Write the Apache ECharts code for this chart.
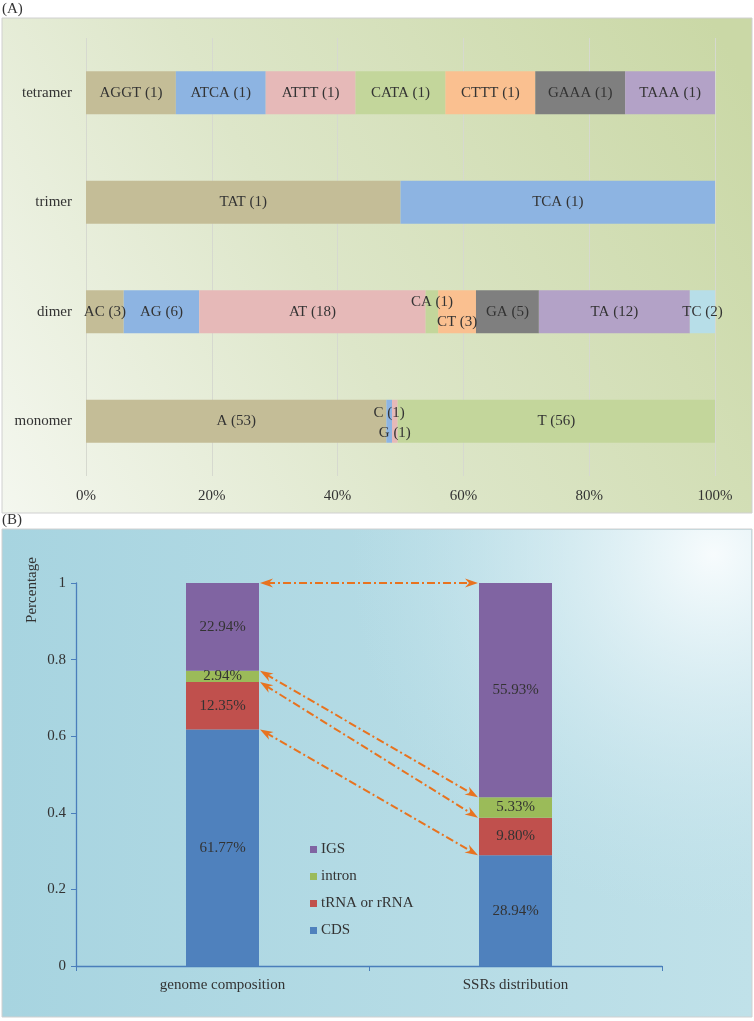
<!DOCTYPE html>
<html>
<head>
<meta charset="utf-8">
<script src="https://cdn.jsdelivr.net/npm/echarts@6/dist/echarts.min.js"></script>
<style>
html,body{margin:0;padding:0;background:#fff;}
#chart{width:754px;height:1021px;}
</style>
</head>
<body>
<div id="chart"></div>
<script>
// ---------- Panel A data ----------
const catsA = ['tetramer', 'trimer', 'dimer', 'monomer'];
const tetramerNames = ['AGGT', 'ATCA', 'ATTT', 'CATA', 'CTTT', 'GAAA', 'TAAA'];
const tetramerCounts = [1, 1, 1, 1, 1, 1, 1];
const trimerNames = ['TAT', 'TCA'];
const trimerCounts = [1, 1];
const dimerNames = ['AC', 'AG', 'AT', 'CA', 'CT', 'GA', 'TA', 'TC'];
const dimerCounts = [3, 6, 18, 1, 3, 5, 12, 2];
const monomerNames = ['A', 'C', 'G', 'T'];
const monomerCounts = [53, 1, 1, 56];
const xTicksA = [0, 20, 40, 60, 80, 100];

// ---------- Panel B data ----------
const catsB = ['genome composition', 'SSRs distribution'];
const cdsPct = [61.77, 28.94];
const rnaPct = [12.35, 9.80];
const intronPct = [2.94, 5.33];
const igsPct = [22.94, 55.93];
const yTicksB = [0, 0.2, 0.4, 0.6, 0.8, 1];

// ---------- styles ----------
const FONT = "'Liberation Serif', 'Times New Roman', serif";
const TXT = '#333333';
const slotColors = ['#c4bd97', '#8db4e2', '#e6b9b8', '#c3d69b', '#fac090', '#7f7f7f', '#b3a2c7', '#b7dee8'];
const colB = { CDS: '#4f81bd', RNA: '#c0504d', intron: '#9bbb59', IGS: '#8064a2' };
const ARROW = '#e8731f';
const BAR_B = 73;

// label offsets for tiny segments (row, slot) -> offset
const labelOffsets = { 'dimer-3': [0, -10], 'dimer-4': [0, 10], 'monomer-1': [0, -8], 'monomer-2': [0, 12] };

const rowsA = {
  tetramer: { names: tetramerNames, counts: tetramerCounts },
  trimer: { names: trimerNames, counts: trimerCounts },
  dimer: { names: dimerNames, counts: dimerCounts },
  monomer: { names: monomerNames, counts: monomerCounts }
};

const seriesA = [];
for (let s = 0; s < slotColors.length; s++) {
  const data = catsA.map(function (c) {
    const r = rowsA[c];
    if (s >= r.counts.length) return '-';
    const total = r.counts.reduce(function (a, b) { return a + b; }, 0);
    const item = {
      value: r.counts[s] / total * 100,
      lbl: r.names[s] + ' (' + r.counts[s] + ')'
    };
    const off = labelOffsets[c + '-' + s];
    if (off) item.label = { offset: off };
    return item;
  });
  seriesA.push({
    type: 'bar', stack: 'a', xAxisIndex: 0, yAxisIndex: 0,
    barWidth: 43,
    itemStyle: { color: slotColors[s] },
    label: {
      show: true, position: 'inside', color: TXT, fontFamily: FONT, fontSize: 15,
      formatter: function (p) { return p.data.lbl; }
    },
    data: data
  });
}

const seriesBDefs = [
  { name: 'CDS', vals: cdsPct, color: colB.CDS },
  { name: 'tRNA or rRNA', vals: rnaPct, color: colB.RNA },
  { name: 'intron', vals: intronPct, color: colB.intron },
  { name: 'IGS', vals: igsPct, color: colB.IGS }
];
const seriesB = seriesBDefs.map(function (d) {
  return {
    name: d.name, type: 'bar', stack: 'b', xAxisIndex: 1, yAxisIndex: 1,
    barWidth: BAR_B,
    itemStyle: { color: d.color },
    label: {
      show: true, position: 'inside', color: TXT, fontFamily: FONT, fontSize: 15,
      formatter: function (p) { return (p.value * 100).toFixed(2) + '%'; }
    },
    data: d.vals.map(function (v) { return v / 100; })
  };
});

// arrows connect matching stack boundaries of the two bars
function tops(i) {
  const c = cdsPct[i] / 100, r = rnaPct[i] / 100, n = intronPct[i] / 100, g = igsPct[i] / 100;
  return [c + r + n + g, c + r + n, c + r, c];
}
const t0 = tops(0), t1 = tops(1);
const arrowData = t0.map(function (v, k) { return [0, Math.min(v, 1), 1, Math.min(t1[k], 1)]; });

function arrowHead(x, y, dx, dy) {
  const L = 13, W = 4.5, N = 9;
  const px = -dy, py = dx;
  return {
    type: 'polygon',
    shape: { points: [
      [x, y],
      [x - dx * L + px * W, y - dy * L + py * W],
      [x - dx * N, y - dy * N],
      [x - dx * L - px * W, y - dy * L - py * W]
    ] },
    style: { fill: ARROW }
  };
}

const arrowSeries = {
  type: 'custom', xAxisIndex: 1, yAxisIndex: 1, clip: false, z: 5,
  silent: true,
  encode: { x: 0, y: 1 },
  renderItem: function (params, api) {
    const p1 = api.coord([api.value(0), api.value(1)]);
    const p2 = api.coord([api.value(2), api.value(3)]);
    const x1 = p1[0] + BAR_B / 2 + 1, y1 = p1[1];
    const x2 = p2[0] - BAR_B / 2 - 1, y2 = p2[1];
    const len = Math.hypot(x2 - x1, y2 - y1);
    const ux = (x2 - x1) / len, uy = (y2 - y1) / len;
    return {
      type: 'group',
      children: [
        {
          type: 'line',
          shape: { x1: x1 + ux * 7, y1: y1 + uy * 7, x2: x2 - ux * 7, y2: y2 - uy * 7 },
          style: { stroke: ARROW, lineWidth: 2, lineDash: [8, 3, 2, 3], fill: null }
        },
        arrowHead(x1, y1, -ux, -uy),
        arrowHead(x2, y2, ux, uy)
      ]
    };
  },
  data: arrowData
};

const option = {
  animation: false,
  backgroundColor: '#ffffff',
  textStyle: { fontFamily: FONT },
  graphic: [
    { type: 'rect', z: -10, shape: { x: 2, y: 18, width: 750, height: 495 },
      style: { stroke: '#d0d0d0', lineWidth: 1,
        fill: { type: 'linear', x: 0, y: 1, x2: 1, y2: 0.15, colorStops: [
          { offset: 0, color: '#f4f7ef' }, { offset: 0.45, color: '#dde6c9' }, { offset: 1, color: '#cad8a6' }] } } },
    { type: 'rect', z: -10, shape: { x: 2, y: 529, width: 750, height: 488 },
      style: { stroke: '#d0d0d0', lineWidth: 1,
        fill: { type: 'linear', x: 0, y: 0, x2: 1, y2: 0, colorStops: [
          { offset: 0, color: '#a7d4e0' }, { offset: 1, color: '#c0e1e9' }] } } },
    { type: 'rect', z: -9, shape: { x: 3, y: 530, width: 748, height: 486 },
      style: {
        fill: { type: 'radial', x: 0.95, y: 0.05, r: 0.75, colorStops: [
          { offset: 0, color: 'rgba(250,253,254,0.95)' }, { offset: 0.5, color: 'rgba(225,241,246,0.5)' }, { offset: 1, color: 'rgba(200,230,238,0)' }] } } },
    { type: 'text', left: 2, top: 2, style: { text: '(A)', font: '15px ' + FONT, fill: TXT } },
    { type: 'text', left: 2, top: 513, style: { text: '(B)', font: '15px ' + FONT, fill: TXT } },
    { type: 'text', x: 32, y: 590, rotation: Math.PI / 2,
      style: { text: 'Percentage', font: '15px ' + FONT, fill: TXT, textAlign: 'center', textVerticalAlign: 'middle' } }
  ],
  legend: {
    orient: 'vertical', left: 310, top: 842, padding: 0,
    data: ['IGS', 'intron', 'tRNA or rRNA', 'CDS'],
    icon: 'rect', itemWidth: 7, itemHeight: 7, itemGap: 12,
    textStyle: { fontFamily: FONT, fontSize: 15, color: TXT, padding: [0, 0, 0, -1] },
    selectedMode: false
  },
  grid: [
    { left: 86, right: 39, top: 38, height: 438 },
    { left: 76, right: 92, top: 583, bottom: 55 }
  ],
  xAxis: [
    {
      type: 'value', gridIndex: 0, min: xTicksA[0], max: xTicksA[xTicksA.length - 1], interval: 20,
      axisLine: { show: false }, axisTick: { show: false },
      splitLine: { show: true, lineStyle: { color: '#d6d9cf', width: 1 } },
      axisLabel: { color: TXT, fontFamily: FONT, fontSize: 15, margin: 13, formatter: '{value}%' }
    },
    {
      type: 'category', gridIndex: 1, data: catsB,
      axisLine: { show: true, lineStyle: { color: '#4a7ebb', width: 1.3 } },
      axisTick: { show: true, length: 5, lineStyle: { color: '#4a7ebb' } },
      axisLabel: { color: TXT, fontFamily: FONT, fontSize: 15, margin: 12 }
    }
  ],
  yAxis: [
    {
      type: 'category', gridIndex: 0, data: catsA, inverse: true,
      axisLine: { show: false }, axisTick: { show: false },
      axisLabel: { color: TXT, fontFamily: FONT, fontSize: 15, margin: 14 }
    },
    {
      type: 'value', gridIndex: 1, min: yTicksB[0], max: yTicksB[yTicksB.length - 1], interval: 0.2,
      axisLine: { show: true, lineStyle: { color: '#4a7ebb', width: 1.3 } },
      axisTick: { show: true, length: 5, lineStyle: { color: '#4a7ebb' } },
      splitLine: { show: false },
      axisLabel: { color: TXT, fontFamily: FONT, fontSize: 15, margin: 10,
        formatter: function (v) { return String(Math.round(v * 10) / 10); } }
    }
  ],
  series: seriesA.concat(seriesB, [arrowSeries])
};

const chart = echarts.init(document.getElementById('chart'), null, { renderer: 'canvas' });
chart.setOption(option);
</script>
</body>
</html>
